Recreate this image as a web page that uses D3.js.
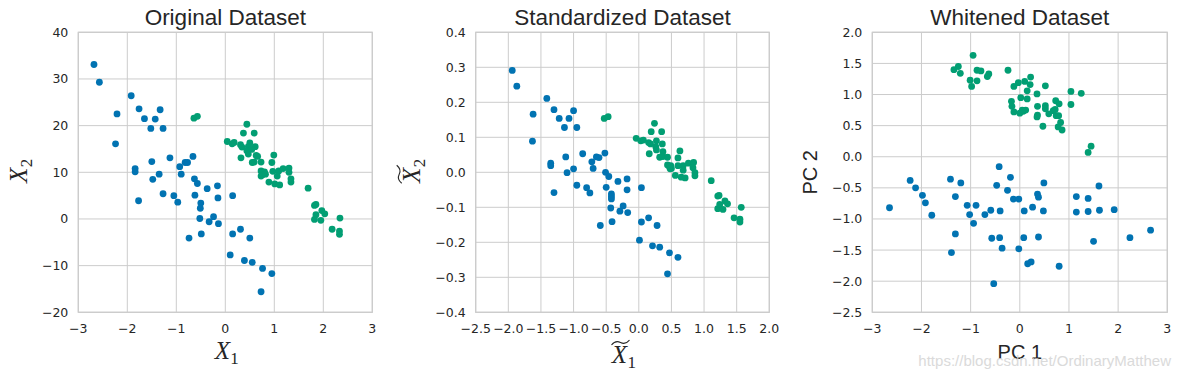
<!DOCTYPE html>
<html><head><meta charset="utf-8">
<script src="https://cdn.jsdelivr.net/npm/d3@7"></script>
<style>body{margin:0;background:#fff}svg{display:block}</style>
</head><body>
<script>
// ---------- data ----------
const origBlue = [[-2.68,33.1],[-2.57,29.3],[-1.92,26.4],[-2.21,22.5],[-1.76,23.6],[-1.33,23.4],[-1.65,21.5],[-1.43,21.4],[-1.52,19.4],[-1.27,19.4],[-2.24,16.1],[-1.13,13.1],[-0.66,13.4],[-0.82,12.1],[-0.77,12.1],[-1.50,12.3],[-0.93,11.2],[-1.84,10.8],[-1.84,10.1],[-1.35,9.6],[-0.90,9.6],[-1.48,8.5],[-0.63,8.6],[-0.57,7.6],[-0.16,7.1],[-0.37,6.5],[-1.27,5.4],[-1.05,5.0],[-0.62,5.1],[0.15,5.0],[-0.15,4.5],[-0.97,3.6],[-1.77,3.9],[-0.50,3.4],[-0.51,2.3],[-0.24,0.5],[-0.52,0.1],[-0.33,-0.6],[-0.14,-1.0],[0.31,-2.2],[0.15,-3.2],[-0.49,-3.2],[-0.74,-4.1],[0.50,-4.1],[0.10,-7.7],[0.39,-8.9],[0.55,-9.3],[0.76,-10.6],[0.95,-11.7],[0.73,-15.6]];
const origGreen = [[-0.64,21.6],[-0.57,22.0],[0.44,20.3],[0.37,18.4],[0.59,18.4],[0.04,16.6],[0.14,16.1],[0.18,16.4],[0.31,15.9],[0.50,16.3],[0.34,15.4],[0.47,15.5],[0.61,15.5],[0.44,14.6],[0.54,14.9],[0.47,13.9],[0.63,13.6],[0.66,13.4],[0.32,13.1],[0.99,13.7],[0.55,12.1],[0.59,12.2],[0.73,12.2],[0.95,12.1],[0.73,10.3],[0.80,10.1],[0.76,9.5],[0.73,9.2],[0.82,9.6],[0.97,10.2],[1.09,10.3],[1.18,10.8],[1.30,10.9],[1.06,9.2],[1.30,10.0],[1.34,8.6],[1.34,7.9],[0.89,7.9],[1.01,7.5],[1.11,7.3],[1.69,6.6],[1.82,2.9],[1.85,3.1],[1.97,1.8],[2.03,1.1],[1.85,0.9],[1.82,-0.1],[1.95,-0.3],[2.34,0.2],[2.18,-2.2],[2.33,-2.6],[2.33,-3.3]];

const stdBlue = [[-1.94,0.291],[-1.87,0.246],[-1.41,0.211],[-1.62,0.166],[-1.30,0.179],[-1.00,0.176],[-1.22,0.154],[-1.07,0.154],[-1.14,0.128],[-0.95,0.128],[-1.63,0.089],[-0.86,0.053],[-0.52,0.055],[-1.12,0.044],[-0.65,0.044],[-0.61,0.042],[-0.72,0.030],[-1.35,0.026],[-1.35,0.019],[-1.00,0.010],[-0.70,0.011],[-1.10,-0.001],[-0.51,0.000],[-0.46,-0.012],[-0.18,-0.019],[-0.32,-0.026],[-1.30,-0.058],[-0.95,-0.037],[-0.80,-0.044],[-0.50,-0.043],[0.04,-0.044],[-0.18,-0.050],[-0.75,-0.059],[-0.42,-0.062],[-0.42,-0.069],[-0.42,-0.076],[-0.43,-0.102],[-0.24,-0.096],[-0.29,-0.111],[-0.17,-0.115],[-0.41,-0.141],[-0.59,-0.152],[0.04,-0.142],[0.15,-0.130],[0.28,-0.152],[0.01,-0.194],[0.21,-0.210],[0.32,-0.214],[0.47,-0.230],[0.60,-0.243],[0.44,-0.290]];
const stdGreen = [[-0.53,0.154],[-0.47,0.159],[0.24,0.140],[0.19,0.116],[0.35,0.116],[-0.04,0.097],[0.03,0.090],[0.07,0.092],[0.15,0.085],[0.18,0.081],[0.27,0.090],[0.36,0.081],[0.26,0.073],[0.27,0.064],[0.37,0.059],[0.63,0.061],[0.16,0.053],[0.32,0.043],[0.37,0.045],[0.44,0.043],[0.60,0.041],[0.44,0.021],[0.49,0.019],[0.48,0.010],[0.50,0.011],[0.47,0.016],[0.60,0.019],[0.68,0.019],[0.76,0.026],[0.84,0.028],[0.68,0.006],[0.83,0.013],[0.86,-0.001],[0.86,-0.010],[0.56,-0.009],[0.65,-0.014],[0.71,-0.016],[1.11,-0.024],[1.21,-0.068],[1.23,-0.066],[1.32,-0.082],[1.36,-0.090],[1.21,-0.104],[1.24,-0.092],[1.29,-0.106],[1.57,-0.100],[1.46,-0.130],[1.55,-0.134],[1.55,-0.142]];

const whiteBlue = [[-2.65,-0.82],[-2.23,-0.38],[-2.12,-0.50],[-1.98,-0.62],[-1.92,-0.74],[-1.79,-0.94],[-1.41,-0.36],[-1.20,-0.42],[-1.31,-0.64],[-1.31,-1.24],[-1.39,-1.54],[-1.07,-0.78],[-0.89,-0.78],[-1.02,-0.93],[-0.94,-1.07],[-0.71,-0.93],[-0.59,-0.86],[-0.40,-0.87],[-0.42,-0.16],[-0.47,-0.46],[-0.19,-0.33],[-0.25,-0.54],[-0.13,-0.68],[-0.02,-0.68],[0.09,-0.87],[0.26,-0.81],[0.36,-0.60],[0.38,-0.65],[0.49,-0.42],[0.48,-0.87],[-0.57,-1.31],[-0.41,-1.30],[-0.36,-1.47],[-0.02,-1.48],[0.08,-1.30],[0.38,-1.29],[0.16,-1.72],[0.23,-1.69],[-0.53,-2.04],[0.80,-1.76],[1.15,-0.64],[1.15,-0.89],[1.39,-0.67],[1.39,-0.88],[1.61,-0.47],[1.62,-0.86],[1.92,-0.85],[1.50,-1.36],[2.24,-1.30],[2.66,-1.18]];
const whiteGreen = [[-0.95,1.63],[-1.34,1.40],[-1.25,1.45],[-1.21,1.34],[-0.87,1.39],[-0.79,1.38],[-1.01,1.23],[-0.87,1.22],[-0.98,1.13],[-0.63,1.33],[-0.66,1.29],[-0.24,1.39],[-0.12,1.13],[-0.03,1.19],[0.10,1.21],[0.22,1.28],[0.21,1.16],[0.52,1.14],[0.15,1.06],[0.35,1.01],[0.02,0.95],[0.15,0.93],[-0.17,0.89],[-0.16,0.81],[-0.12,0.72],[0.00,0.70],[0.07,0.73],[0.12,0.75],[0.05,0.75],[0.36,0.81],[0.36,0.67],[0.35,0.64],[0.52,0.82],[0.52,0.77],[0.59,0.69],[0.68,0.74],[0.73,0.90],[0.80,0.85],[0.72,0.76],[0.74,0.66],[0.79,0.66],[0.83,0.55],[0.78,0.48],[0.86,0.43],[0.47,0.49],[1.04,1.05],[1.25,1.02],[1.04,0.84],[1.45,0.17],[1.39,0.07]];

const titles = ["Original Dataset", "Standardized Dataset", "Whitened Dataset"];
const xTicks1 = [-3,-2,-1,0,1,2,3];
const yTicks1 = [-20,-10,0,10,20,30,40];
const xTicks2 = [-2.5,-2.0,-1.5,-1.0,-0.5,0.0,0.5,1.0,1.5,2.0];
const yTicks2 = [-0.4,-0.3,-0.2,-0.1,0.0,0.1,0.2,0.3,0.4];
const xTicks3 = [-3,-2,-1,0,1,2,3];
const yTicks3 = [-2.5,-2.0,-1.5,-1.0,-0.5,0.0,0.5,1.0,1.5,2.0];

const BLUE = "#0173b2", GREEN = "#029e73";
const fmt0 = d => d3.format("d")(d), fmt1 = d => d3.format(".1f")(d);

const panels = [
  {x0:78.3, x1:372.3, xd:[-3,3], yd:[-20,40], xt:xTicks1, yt:yTicks1, xf:fmt0, yf:fmt0, blue:origBlue, green:origGreen, title:titles[0], lab:"X"},
  {x0:475.7, x1:769.3, xd:[-2.5,2.0], yd:[-0.4,0.4], xt:xTicks2, yt:yTicks2, xf:fmt1, yf:fmt1, blue:stdBlue, green:stdGreen, title:titles[1], lab:"Xt"},
  {x0:872.3, x1:1167.3, xd:[-3,3], yd:[-2.5,2.0], xt:xTicks3, yt:yTicks3, xf:fmt0, yf:fmt1, blue:whiteBlue, green:whiteGreen, title:titles[2], lab:"PC"}
];
const TOP = 32.3, BOT = 312.3;

const svg = d3.select("body").append("svg").attr("width",1181).attr("height",379);

function mathLabel(g, cx, cy, sub, tilde, rotate) {
  const t = g.append("g").attr("transform", `translate(${cx},${cy})` + (rotate ? " rotate(-90)" : ""));
  const ff = "'Liberation Serif','DejaVu Serif',serif";
  t.append("text").attr("x",-3).attr("text-anchor","middle").attr("fill","#262626")
    .style("font-family",ff).style("font-style","italic").style("font-size","25px").text("X");
  t.append("text").attr("x",5).attr("y",5).attr("text-anchor","start").attr("fill","#262626")
    .style("font-family",ff).style("font-size","17px").text(sub);
  if (tilde) {
    t.append("path").attr("d","M-11,-18 q4,-5 9,-2.5 t9,-2.5").attr("fill","none")
     .attr("stroke","#262626").attr("stroke-width",1.1);
  }
}

panels.forEach(p => {
  const x = d3.scaleLinear().domain(p.xd).range([p.x0, p.x1]);
  const y = d3.scaleLinear().domain(p.yd).range([BOT, TOP]);
  const g = svg.append("g");
  g.selectAll(".gx").data(p.xt).join("line").attr("x1",d=>x(d)).attr("x2",d=>x(d)).attr("y1",TOP).attr("y2",BOT)
    .attr("stroke","#cccccc").attr("stroke-width",1);
  g.selectAll(".gy").data(p.yt).join("line").attr("y1",d=>y(d)).attr("y2",d=>y(d)).attr("x1",p.x0).attr("x2",p.x1)
    .attr("stroke","#cccccc").attr("stroke-width",1);
  g.append("rect").attr("x",p.x0).attr("y",TOP).attr("width",p.x1-p.x0).attr("height",BOT-TOP)
    .attr("fill","none").attr("stroke","#cccccc").attr("stroke-width",1.25);
  g.selectAll(".tx").data(p.xt).join("text").attr("x",d=>x(d)).attr("y",BOT+21).attr("text-anchor","middle")
    .attr("fill","#262626").style("font-family","'DejaVu Sans',sans-serif").style("font-size","12.5px").text(p.xf);
  g.selectAll(".ty").data(p.yt).join("text").attr("x",p.x0-10).attr("y",d=>y(d)+4.5).attr("text-anchor","end")
    .attr("fill","#262626").style("font-family","'DejaVu Sans',sans-serif").style("font-size","12.5px").text(p.yf);
  g.selectAll(".pb").data(p.blue).join("circle").attr("cx",d=>x(d[0])).attr("cy",d=>y(d[1])).attr("r",3.4).attr("fill",BLUE);
  g.selectAll(".pg").data(p.green).join("circle").attr("cx",d=>x(d[0])).attr("cy",d=>y(d[1])).attr("r",3.4).attr("fill",GREEN);
  const cx = (p.x0+p.x1)/2;
  g.append("text").attr("x",cx).attr("y",25).attr("text-anchor","middle").attr("fill","#262626")
    .style("font-family","'Liberation Sans',Arial,sans-serif").style("font-size","22.5px").text(p.title);
  if (p.lab === "PC") {
    g.append("text").attr("x",cx).attr("y",359).attr("text-anchor","middle").attr("fill","#262626")
      .style("font-family","'Liberation Sans',Arial,sans-serif").style("font-size","20px").text("PC 1");
    g.append("text").attr("transform",`translate(${p.x0-55},${(TOP+BOT)/2}) rotate(-90)`).attr("text-anchor","middle").attr("fill","#262626")
      .style("font-family","'Liberation Sans',Arial,sans-serif").style("font-size","20px").text("PC 2");
  } else {
    const tl = p.lab === "Xt";
    mathLabel(g, cx, tl ? 363 : 359, "1", tl, false);
    mathLabel(g, p.x0 - (tl ? 56 : 51), (TOP+BOT)/2, "2", tl, true);
  }
});

svg.append("text").attr("x",1171).attr("y",366).attr("text-anchor","end").attr("fill","#d4d4d4").attr("opacity",0.85)
  .style("font-family","'Liberation Sans',Arial,sans-serif").style("font-size","15px").text("https://blog.csdn.net/OrdinaryMatthew");
</script>
</body></html>
